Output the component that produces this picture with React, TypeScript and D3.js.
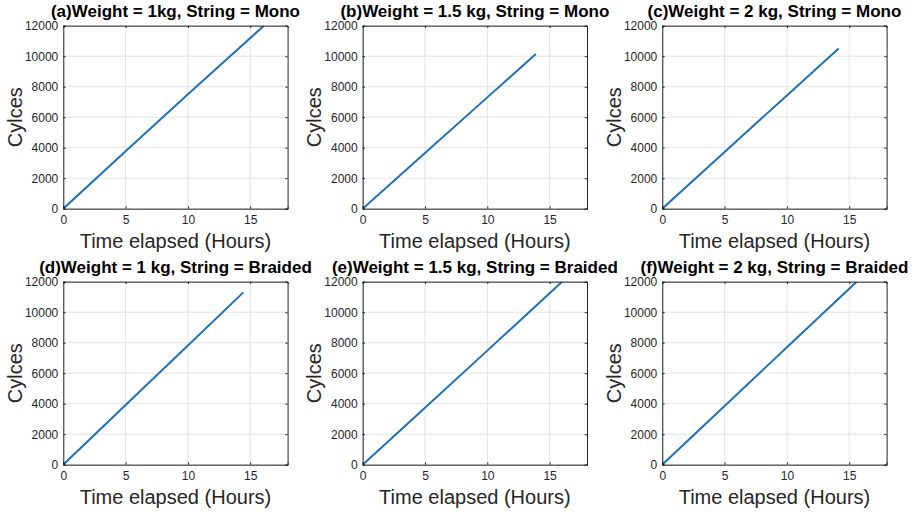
import React, { useEffect, useRef } from 'react';
import * as d3 from 'd3';

// panel titles
const titles = [
  '(a)Weight = 1kg, String = Mono',
  '(b)Weight = 1.5 kg, String = Mono',
  '(c)Weight = 2 kg, String = Mono',
  '(d)Weight = 1 kg, String = Braided',
  '(e)Weight = 1.5 kg, String = Braided',
  '(f)Weight = 2 kg, String = Braided',
];

// hours / cycles
const hoursA = [0, 5, 10, 16.1];
const cyclesA = [0, 3760, 7500, 12000];
const hoursB = [0, 5, 10, 13.9];
const cyclesB = [0, 3660, 7300, 10150];
const hoursC = [0, 5, 10, 14.15];
const cyclesC = [0, 3720, 7430, 10500];
const hoursD = [0, 5, 10, 14.45];
const cyclesD = [0, 3920, 7820, 11300];
const hoursE = [0, 5, 10, 16.0];
const cyclesE = [0, 3740, 7480, 12000];
const hoursF = [0, 5, 10, 15.6];
const cyclesF = [0, 3850, 7700, 12000];

const xTicks = [0, 5, 10, 15];
const yTicks = [0, 2000, 4000, 6000, 8000, 10000, 12000];

const series = [
  [hoursA, cyclesA],
  [hoursB, cyclesB],
  [hoursC, cyclesC],
  [hoursD, cyclesD],
  [hoursE, cyclesE],
  [hoursF, cyclesF],
];

const W = 924;
const H = 514;
const lefts = [63.3, 362.7, 662.3];
const tops = [25.7, 281.7];
const pw = 224.3;
const ph = 183;
const ink = '#262626';
const font = "'Liberation Sans', Arial, sans-serif";

export default function App() {
  const ref = useRef<SVGSVGElement>(null);

  useEffect(() => {
    const svg = d3.select(ref.current);
    svg.selectAll('*').remove();

    series.forEach(([hours, cycles], i) => {
      const ox = lefts[i % 3];
      const oy = tops[Math.floor(i / 3)];
      const g = svg.append('g').attr('transform', `translate(${ox},${oy})`);

      const x = d3.scaleLinear().domain([0, 18]).range([0, pw]);
      const y = d3.scaleLinear().domain([0, 12000]).range([ph, 0]);

      g.append('rect').attr('width', pw).attr('height', ph).attr('fill', '#fff');

      // grid
      g.selectAll('.gx').data(xTicks).enter().append('line')
        .attr('x1', d => x(d)).attr('x2', d => x(d))
        .attr('y1', 0).attr('y2', ph)
        .attr('stroke', '#e3e3e3').attr('stroke-width', 1);
      g.selectAll('.gy').data(yTicks).enter().append('line')
        .attr('x1', 0).attr('x2', pw)
        .attr('y1', d => y(d)).attr('y2', d => y(d))
        .attr('stroke', '#e3e3e3').attr('stroke-width', 1);

      // data line, clipped to the box
      const clipId = 'clip' + i;
      g.append('clipPath').attr('id', clipId)
        .append('rect').attr('width', pw).attr('height', ph);
      const pts = hours.map((h, k) => [h, cycles[k]] as [number, number]);
      const line = d3.line<[number, number]>().x(d => x(d[0])).y(d => y(d[1]));
      g.append('path')
        .datum(pts)
        .attr('clip-path', `url(#${clipId})`)
        .attr('d', line)
        .attr('fill', 'none')
        .attr('stroke', '#1f72b8')
        .attr('stroke-width', 2);

      // axes (ticks inward, mirrored on top/right)
      const tl = 2.3;
      const bottom = d3.axisBottom(x).tickValues(xTicks).tickSize(-tl).tickPadding(7).tickFormat(d3.format('d'));
      const top = d3.axisTop(x).tickValues(xTicks).tickSize(-tl).tickFormat(() => '');
      const left = d3.axisLeft(y).tickValues(yTicks).tickSize(-tl).tickPadding(5).tickFormat(d3.format('d'));
      const right = d3.axisRight(y).tickValues(yTicks).tickSize(-tl).tickFormat(() => '');

      const gb = g.append('g').attr('transform', `translate(0,${ph})`).call(bottom);
      const gt = g.append('g').call(top);
      const gl = g.append('g').call(left);
      const gr = g.append('g').attr('transform', `translate(${pw},0)`).call(right);
      [gb, gt, gl, gr].forEach(a => {
        a.selectAll('path').attr('stroke', ink).attr('stroke-width', 1);
        a.selectAll('line').attr('stroke', ink).attr('stroke-width', 1);
        a.selectAll('text').attr('fill', ink).attr('font-size', 12).attr('font-family', font);
      });

      // labels
      g.append('text')
        .attr('x', pw / 2).attr('y', ph + 39.5)
        .attr('text-anchor', 'middle')
        .attr('font-family', font).attr('font-size', 20).attr('fill', ink)
        .text('Time elapsed (Hours)');
      g.append('text')
        .attr('transform', `translate(-41.8,${ph / 2}) rotate(-90)`)
        .attr('text-anchor', 'middle')
        .attr('font-family', font).attr('font-size', 20).attr('fill', ink)
        .text('Cylces');
      g.append('text')
        .attr('x', pw / 2).attr('y', -9.2)
        .attr('text-anchor', 'middle')
        .attr('font-family', font).attr('font-size', 17).attr('font-weight', 'bold').attr('fill', '#000')
        .text(titles[i]);
    });
  }, []);

  return (
    <svg ref={ref} width={W} height={H} style={{ position: 'absolute', left: 0, top: 0, background: '#fff' }} />
  );
}
